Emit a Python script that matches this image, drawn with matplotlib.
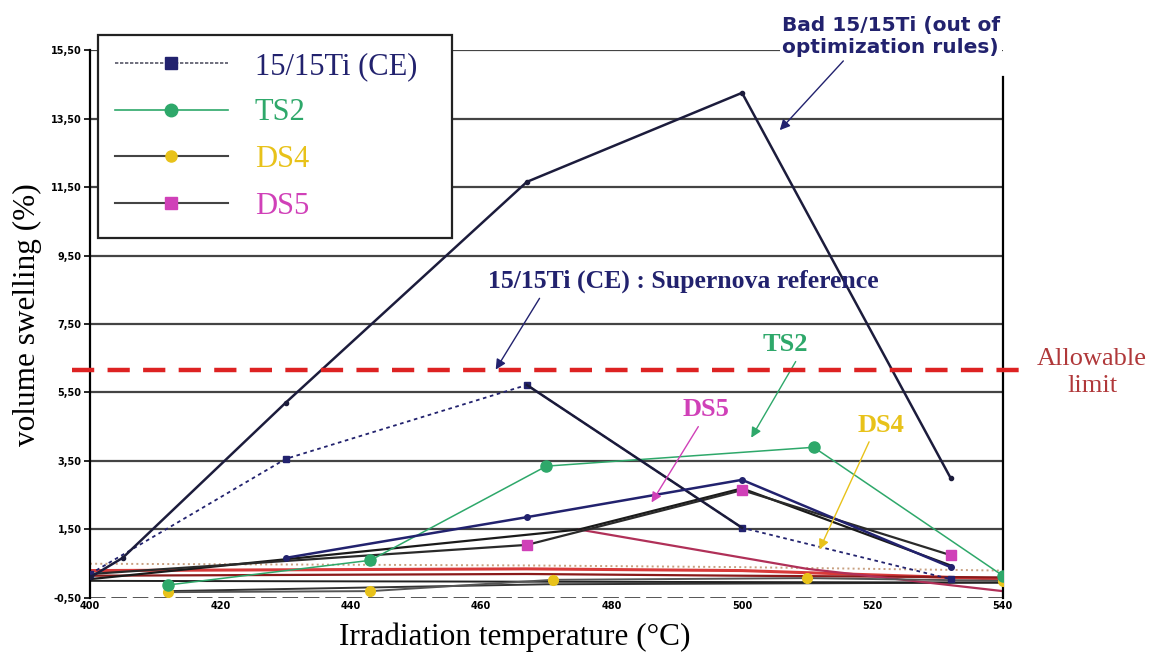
import numpy as np
import matplotlib.pyplot as plt
from matplotlib.lines import Line2D

# ---------------------------
# data (temperature in C, swelling in %)
# ---------------------------
bad_T = [400, 405, 430, 467, 500, 532]
bad_V = [0.1, 0.67, 5.2, 11.65, 14.25, 3.0]

ref_T = [400, 430, 467, 500, 532]
ref_V = [0.2, 3.56, 5.72, 1.55, 0.05]

ce2_T = [430, 467, 500, 532]
ce2_V = [0.67, 1.86, 2.95, 0.4]

ts2_T = [412, 443, 470, 511, 540]
ts2_V = [-0.12, 0.6, 3.35, 3.9, 0.15]

ds4_T = [412, 443, 471, 510, 540]
ds4_V = [-0.33, -0.3, 0.03, 0.08, 0.0]

ds5_T = [400, 467, 500, 532]
ds5_V = [0.2, 1.05, 2.65, 0.75]

# other unlabelled curves bunched near zero
blk_T = [400, 475, 500, 532]
blk_V = [0.05, 1.5, 2.7, 0.45]
red_T = [475, 510, 540]
red_V = [1.5, 0.35, -0.3]
band_T = [400, 467, 500, 540]
band1_V = [0.3, 0.35, 0.3, 0.05]
band2_V = [0.15, 0.2, 0.15, 0.1]
dots_V = [0.5, 0.45, 0.4, 0.3]
low_T = [412, 470, 540]
low_V = [-0.3, -0.1, -0.05]

limit = 6.15

yticks = [-0.5, 1.5, 3.5, 5.5, 7.5, 9.5, 11.5, 13.5, 15.5]
xticks = [400, 420, 440, 460, 480, 500, 520, 540]

navy = '#22226e'
green = '#2ea86a'
yellow = '#e8c21a'
magenta = '#d040b8'
darkred = '#b0383a'

fig = plt.figure(figsize=(11.54, 6.59), dpi=100)
ax = fig.add_axes([0.078, 0.0926, 0.791, 0.8315])

ax.set_xlim(400, 540)
ax.set_ylim(-0.5, 15.5)

# horizontal grid lines
for v in yticks[1:]:
    ax.axhline(v, color='#444444', lw=1.6, zorder=1)
ax.axhline(-0.5, color='#555555', lw=1.4, ls=(0, (8, 3)), zorder=1)

# cluster of curves near zero
ax.plot(band_T, band1_V, color='#d83a3a', lw=2.2, zorder=2)
ax.plot(band_T, band2_V, color='#8a1a1a', lw=1.6, zorder=2)
ax.plot(band_T, dots_V, color='#c8a080', lw=1.4, ls=':', zorder=2)
ax.plot(low_T, low_V, color='#333333', lw=1.4, zorder=2)
ax.plot([400, 540], [0.0, -0.05], color='#222222', lw=1.4, zorder=2)
ax.plot(red_T, red_V, color='#b03058', lw=1.6, zorder=2)
ax.plot(blk_T, blk_V, color='#1a1a1a', lw=1.6, zorder=3)

# DS4
ax.plot(ds4_T, ds4_V, color='#555555', lw=1.4, zorder=3)
ax.plot(ds4_T, ds4_V, ls='none', marker='o', ms=7, color=yellow, zorder=4)

# DS5
ax.plot(ds5_T, ds5_V, color='#2a2a2a', lw=1.6, zorder=3)
ax.plot(ds5_T, ds5_V, ls='none', marker='s', ms=7, color=magenta, zorder=4,
        markevery=[1, 2, 3])

# TS2
ax.plot(ts2_T, ts2_V, color=green, lw=1.1, zorder=3)
ax.plot(ts2_T, ts2_V, ls='none', marker='o', ms=8, color=green, zorder=4)

# 15/15Ti (CE) curves
ax.plot(ref_T, ref_V, color=navy, lw=1.3, ls=(0, (2, 2)), marker='s', ms=4, zorder=3)
ax.plot(ref_T[2:4], ref_V[2:4], color='#1a1a3a', lw=1.8, zorder=3)
ax.plot(ce2_T, ce2_V, color=navy, lw=1.8, marker='o', ms=4, zorder=3)
ax.plot(bad_T, bad_V, color='#1c1c3c', lw=1.8, marker='o', ms=3, zorder=3)

# allowable limit
ax.axhline(limit, xmin=-0.02, xmax=1.025, color='#dd2222', lw=3.2,
           ls=(0, (5, 3)), clip_on=False, zorder=5)
ax.text(553.7, 6.8, 'Allowable\nlimit', color=darkred, fontsize=19,
        family='Liberation Serif', ha='center', va='top', linespacing=1.3)

# spines / ticks
ax.spines['top'].set_visible(False)
ax.spines['bottom'].set_visible(False)
ax.spines['left'].set_linewidth(1.6)
ax.spines['right'].set_linewidth(1.6)
ax.spines['right'].set_bounds(-0.5, 14.7)
ax.set_yticks(yticks)
ax.set_yticklabels([f'{v:.2f}'.replace('.', ',') for v in yticks],
                   fontsize=7, fontweight='bold')
ax.set_xticks(xticks)
ax.set_xticklabels([str(t) for t in xticks], fontsize=7, fontweight='bold')
ax.tick_params(axis='y', length=4, width=1.2, pad=2)
ax.tick_params(axis='x', length=0, pad=2)

ax.set_ylabel('volume swelling (%)', family='Liberation Serif', fontsize=22.5)
ax.yaxis.set_label_coords(-0.0526, 0.518)
ax.set_xlabel('Irradiation temperature (°C)', family='Liberation Serif', fontsize=22.5)
ax.xaxis.set_label_coords(0.465, -0.045)

# annotations
ax.annotate('Bad 15/15Ti (out of\noptimization rules)', xy=(505.5, 13.1),
            xytext=(522.8, 15.3), color=navy, fontsize=14.5, fontweight='bold',
            ha='center', va='bottom', annotation_clip=False, linespacing=1.2,
            bbox=dict(boxstyle='square,pad=0.1', fc='white', ec='none'),
            arrowprops=dict(arrowstyle='-|>', color=navy, lw=1.0, mutation_scale=15,
                            relpos=(0.3, 0.0)))
ax.annotate('15/15Ti (CE) : Supernova reference', xy=(462, 6.1),
            xytext=(491, 8.4), color=navy, fontsize=18.5, fontweight='bold',
            family='Liberation Serif', ha='center', va='bottom',
            arrowprops=dict(arrowstyle='-|>', color=navy, lw=1.0, mutation_scale=15,
                            relpos=(0.14, 0.0)))
ax.annotate('TS2', xy=(501.2, 4.11), xytext=(506.6, 6.89), color=green, fontsize=19,
            fontweight='bold', family='Liberation Serif', ha='center', va='center',
            arrowprops=dict(arrowstyle='-|>', color=green, lw=1.0, mutation_scale=15,
                            relpos=(0.8, 0.0)))
ax.annotate('DS5', xy=(485.9, 2.22), xytext=(494.5, 4.99), color=magenta, fontsize=19,
            fontweight='bold', family='Liberation Serif', ha='center', va='center',
            arrowprops=dict(arrowstyle='-|>', color=magenta, lw=1.0, mutation_scale=15,
                            relpos=(0.4, 0.0)))
ax.annotate('DS4', xy=(511.7, 0.84), xytext=(521.3, 4.55), color=yellow, fontsize=19,
            fontweight='bold', family='Liberation Serif', ha='center', va='center',
            arrowprops=dict(arrowstyle='-|>', color=yellow, lw=1.0, mutation_scale=15,
                            relpos=(0.3, 0.0)))

# legend
handles = [
    Line2D([], [], color='#555566', lw=1.2, ls=(0, (2, 1)), marker='s', ms=8,
           mfc=navy, mec=navy),
    Line2D([], [], color=green, lw=1.2, marker='o', ms=9, mfc=green, mec=green),
    Line2D([], [], color='#444444', lw=1.5, marker='o', ms=8, mfc=yellow, mec=yellow),
    Line2D([], [], color='#444444', lw=1.5, marker='s', ms=8, mfc=magenta, mec=magenta),
]
labels = ['15/15Ti (CE)', 'TS2', 'DS4', 'DS5']
leg = fig.legend(handles, labels, loc='upper left',
                 bbox_to_anchor=(0.085, 0.647, 0.3068, 0.3), mode='expand',
                 prop={'family': 'Liberation Serif', 'size': 22},
                 handlelength=3.7, labelspacing=0.58, borderpad=0.55,
                 borderaxespad=0, handletextpad=0.88, fancybox=False, framealpha=1,
                 edgecolor='#222222')
leg.get_frame().set_linewidth(1.6)
for txt, col in zip(leg.get_texts(), [navy, green, yellow, magenta]):
    txt.set_color(col)

fig.savefig('out.png', dpi=100)
